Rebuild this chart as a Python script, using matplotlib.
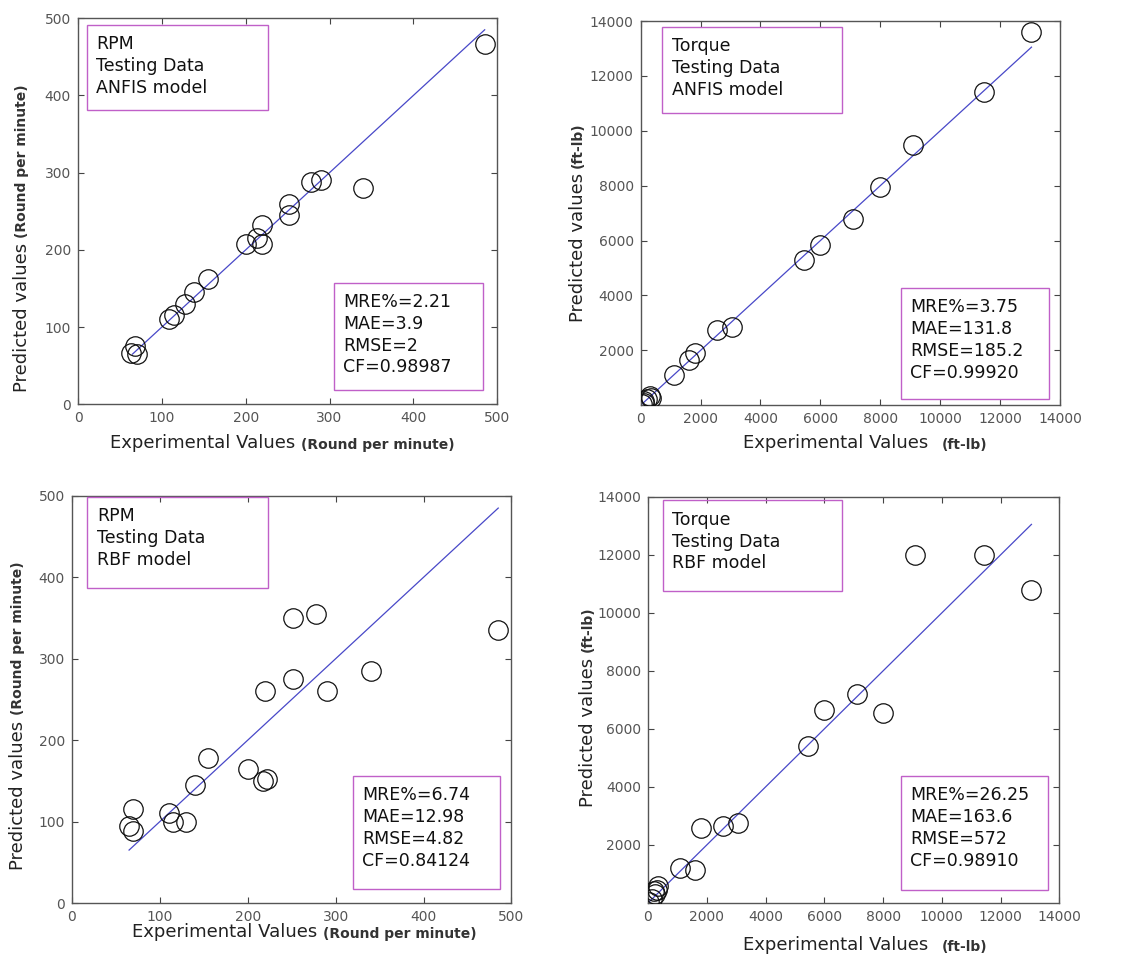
import matplotlib
matplotlib.use("Agg")
import matplotlib.pyplot as plt
from matplotlib.patches import Rectangle

# ---- data (experimental, predicted) ----
rpm_anfis_x = [485, 340, 290, 278, 252, 252, 220, 213, 220, 200, 155, 138, 128, 115, 108, 68, 63, 70]
rpm_anfis_y = [467, 280, 290, 288, 260, 245, 232, 215, 207, 208, 162, 145, 130, 115, 110, 75, 66, 65]

tq_anfis_x = [13050, 11450, 9100, 8000, 7100, 6000, 5450, 3050, 2550, 1800, 1600, 1100,
              50, 120, 200, 300, 350, 100]
tq_anfis_y = [13600, 11400, 9500, 7950, 6800, 5850, 5300, 2850, 2750, 1900, 1650, 1100,
              60, 150, 220, 330, 280, 80]

rpm_rbf_x = [485, 340, 290, 278, 252, 252, 220, 200, 217, 222, 155, 140, 130, 110, 115, 70, 65, 70]
rpm_rbf_y = [335, 285, 260, 355, 350, 275, 260, 165, 150, 152, 178, 145, 100, 110, 100, 115, 95, 88]

tq_rbf_x = [13050, 11450, 9100, 8000, 7100, 6000, 5450, 3050, 2550, 1800, 1600, 1100,
            50, 150, 250, 350, 300, 200]
tq_rbf_y = [10800, 12000, 12000, 6550, 7200, 6650, 5400, 2750, 2650, 2600, 1150, 1200,
            30, 150, 300, 600, 450, 400]

# ideal line end points (y = x)
rpm_line = [65, 485]
tq_line = [0, 13050]

titles = [["RPM", "Testing Data", "ANFIS model"],
          ["Torque", "Testing Data", "ANFIS model"],
          ["RPM", "Testing Data", "RBF model"],
          ["Torque", "Testing Data", "RBF model"]]
stats = [["MRE%=2.21", "MAE=3.9", "RMSE=2", "CF=0.98987"],
         ["MRE%=3.75", "MAE=131.8", "RMSE=185.2", "CF=0.99920"],
         ["MRE%=6.74", "MAE=12.98", "RMSE=4.82", "CF=0.84124"],
         ["MRE%=26.25", "MAE=163.6", "RMSE=572", "CF=0.98910"]]

rpm_ticks = [0, 100, 200, 300, 400, 500]
tq_ticks = [0, 2000, 4000, 6000, 8000, 10000, 12000, 14000]
tq_yticks = [2000, 4000, 6000, 8000, 10000, 12000, 14000]

BOX = "#c060c8"
LINE = "#4848c8"

fig = plt.figure(figsize=(11.24, 9.58), dpi=100)

panels = [
    # axes rect, data, line, ticks, units, label box, stats box, xlabel pos, ylabel pos
    dict(rect=[0.0694, 0.578, 0.373, 0.403], x=rpm_anfis_x, y=rpm_anfis_y, line=rpm_line,
         lim=500, xt=rpm_ticks, yt=rpm_ticks, unit="(Round per minute)",
         lbox=(0.021, 0.762, 0.432, 0.220), sbox=(0.611, 0.036, 0.356, 0.278),
         xl=(0.076, -0.114), yl=(-0.134, 0.031)),
    dict(rect=[0.570, 0.577, 0.373, 0.401], x=tq_anfis_x, y=tq_anfis_y, line=tq_line,
         lim=14000, xt=tq_ticks, yt=tq_yticks, unit="(ft-lb)",
         lbox=(0.052, 0.761, 0.427, 0.223), sbox=(0.620, 0.017, 0.354, 0.287),
         xl=(0.243, -0.112), yl=(-0.150, 0.216)),
    dict(rect=[0.064, 0.0574, 0.391, 0.425], x=rpm_rbf_x, y=rpm_rbf_y, line=rpm_line,
         lim=500, xt=rpm_ticks, yt=rpm_ticks, unit="(Round per minute)",
         lbox=(0.035, 0.773, 0.410, 0.225), sbox=(0.639, 0.034, 0.336, 0.278),
         xl=(0.136, -0.084), yl=(-0.123, 0.081)),
    dict(rect=[0.5765, 0.0574, 0.366, 0.424], x=tq_rbf_x, y=tq_rbf_y, line=tq_line,
         lim=14000, xt=tq_ticks, yt=tq_yticks, unit="(ft-lb)",
         lbox=(0.036, 0.769, 0.435, 0.222), sbox=(0.615, 0.032, 0.357, 0.281),
         xl=(0.231, -0.116), yl=(-0.146, 0.236)),
]


def text_box(ax, box, lines):
    x0, y0, w, h = box
    ax.add_patch(Rectangle((x0, y0), w, h, transform=ax.transAxes, fill=False,
                           edgecolor=BOX, linewidth=1.0, zorder=5))
    ax.text(x0 + 0.022, y0 + h - 0.025, "\n".join(lines), transform=ax.transAxes,
            ha="left", va="top", fontsize=12.5, linespacing=1.28, color="#111111", zorder=6)


for i, p in enumerate(panels):
    ax = fig.add_axes(p["rect"])
    ax.plot(p["line"], p["line"], color=LINE, linewidth=0.9, zorder=2)
    ax.plot(p["x"], p["y"], "o", markerfacecolor="none", markeredgecolor="#111111",
            markersize=14, markeredgewidth=0.9, zorder=3)
    ax.set_xlim(0, p["lim"])
    ax.set_ylim(0, p["lim"])
    ax.set_xticks(p["xt"])
    ax.set_yticks(p["yt"])
    ax.tick_params(direction="in", top=True, right=True, length=4, width=0.8,
                   labelsize=10, labelcolor="#555555", color="#444444", pad=5)
    for s in ax.spines.values():
        s.set_color("#555555")
        s.set_linewidth(1.0)

    text_box(ax, p["lbox"], titles[i])
    text_box(ax, p["sbox"], stats[i])

    # x label: main part + smaller bold unit
    t1 = ax.text(p["xl"][0], p["xl"][1], "Experimental Values", transform=ax.transAxes,
                 ha="left", va="baseline", fontsize=13, color="#222222")
    gap = 4 if p["unit"].startswith("(R") else 10
    ax.annotate(p["unit"], xy=(1, 0), xycoords=t1, xytext=(gap, 0), textcoords="offset points",
                ha="left", va="bottom", fontsize=10, fontweight="bold", color="#333333")

    # y label: rotated, same idea
    t2 = ax.text(p["yl"][0], p["yl"][1], "Predicted values", transform=ax.transAxes,
                 ha="center", va="bottom", rotation=90, fontsize=13, color="#222222")
    ax.annotate(p["unit"], xy=(0.5, 1), xycoords=t2, xytext=(0, 4), textcoords="offset points",
                ha="center", va="bottom", rotation=90, fontsize=10, fontweight="bold",
                color="#333333")

fig.savefig("out.png", dpi=100)
